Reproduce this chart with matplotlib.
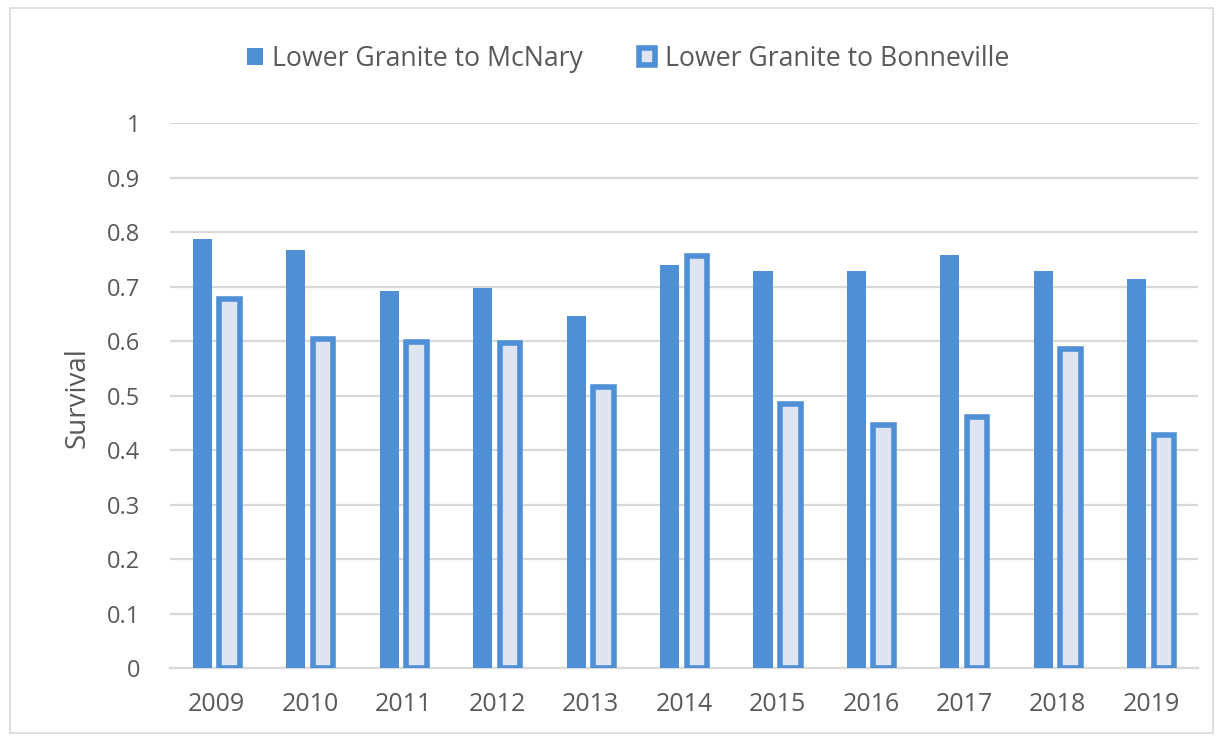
import matplotlib
matplotlib.use("Agg")
import matplotlib.pyplot as plt
from matplotlib.patches import Rectangle
import numpy as np

years = ["2009", "2010", "2011", "2012", "2013", "2014",
         "2015", "2016", "2017", "2018", "2019"]
mcnary = [0.787, 0.767, 0.692, 0.697, 0.645, 0.739,
          0.729, 0.729, 0.757, 0.729, 0.714]
bonneville = [0.677, 0.603, 0.599, 0.597, 0.516, 0.756,
              0.485, 0.446, 0.461, 0.585, 0.428]
yticks = [0, 0.1, 0.2, 0.3, 0.4, 0.5, 0.6, 0.7, 0.8, 0.9, 1]
ytick_labels = ["0", "0.1", "0.2", "0.3", "0.4", "0.5",
                "0.6", "0.7", "0.8", "0.9", "1"]

blue = "#4e8fd5"
light = "#dfe4f1"
text_gray = "#595959"
grid_gray = "#d9d9d9"

plt.rcParams["font.family"] = ["Open Sans", "DejaVu Sans"]

fig = plt.figure(figsize=(12.18, 7.37), dpi=100)
ax = fig.add_axes([0.1396, 0.0936, 0.844, 0.7395])

x = np.arange(len(years))
ax.bar(x - 0.155, mcnary, width=0.205, color=blue, linewidth=0,
       label="Lower Granite to McNary", zorder=3)
ax.bar(x + 0.137, bonneville, width=0.22, color=light, edgecolor=blue,
       linewidth=4, label="Lower Granite to Bonneville", zorder=3)

ax.set_xlim(-0.5, len(years) - 0.5)
ax.set_ylim(0, 1)
ax.set_xticks(x)
ax.set_xticklabels(years)
ax.set_yticks(yticks)
ax.set_yticklabels(ytick_labels)
ax.tick_params(axis="both", length=0, colors=text_gray)
ax.tick_params(axis="x", pad=17, labelsize=18)
ax.tick_params(axis="y", pad=21.5, labelsize=17)
ax.grid(axis="y", color=grid_gray, linewidth=1.6, zorder=0)
for side in ["top", "right", "left"]:
    ax.spines[side].set_visible(False)
ax.spines["bottom"].set_color(grid_gray)
ax.spines["bottom"].set_linewidth(1.6)

ax.set_ylabel("Survival", fontsize=20, color=text_gray)
ax.yaxis.set_label_coords(-0.076, 0.497)

leg = fig.legend(loc="center", bbox_to_anchor=(0.5156, 0.92), ncol=2,
                 frameon=False, fontsize=19.2, handlelength=0.6,
                 handleheight=0.65, handletextpad=0.35, columnspacing=2.1)
for t in leg.get_texts():
    t.set_color(text_gray)

# thin frame around the whole chart area
fig.patches.append(Rectangle((10 / 1218, 4 / 737), 1203 / 1218, 725 / 737,
                             transform=fig.transFigure, fill=False,
                             edgecolor="#d9d9d9", linewidth=1.2))

fig.savefig("out.png", dpi=100)
